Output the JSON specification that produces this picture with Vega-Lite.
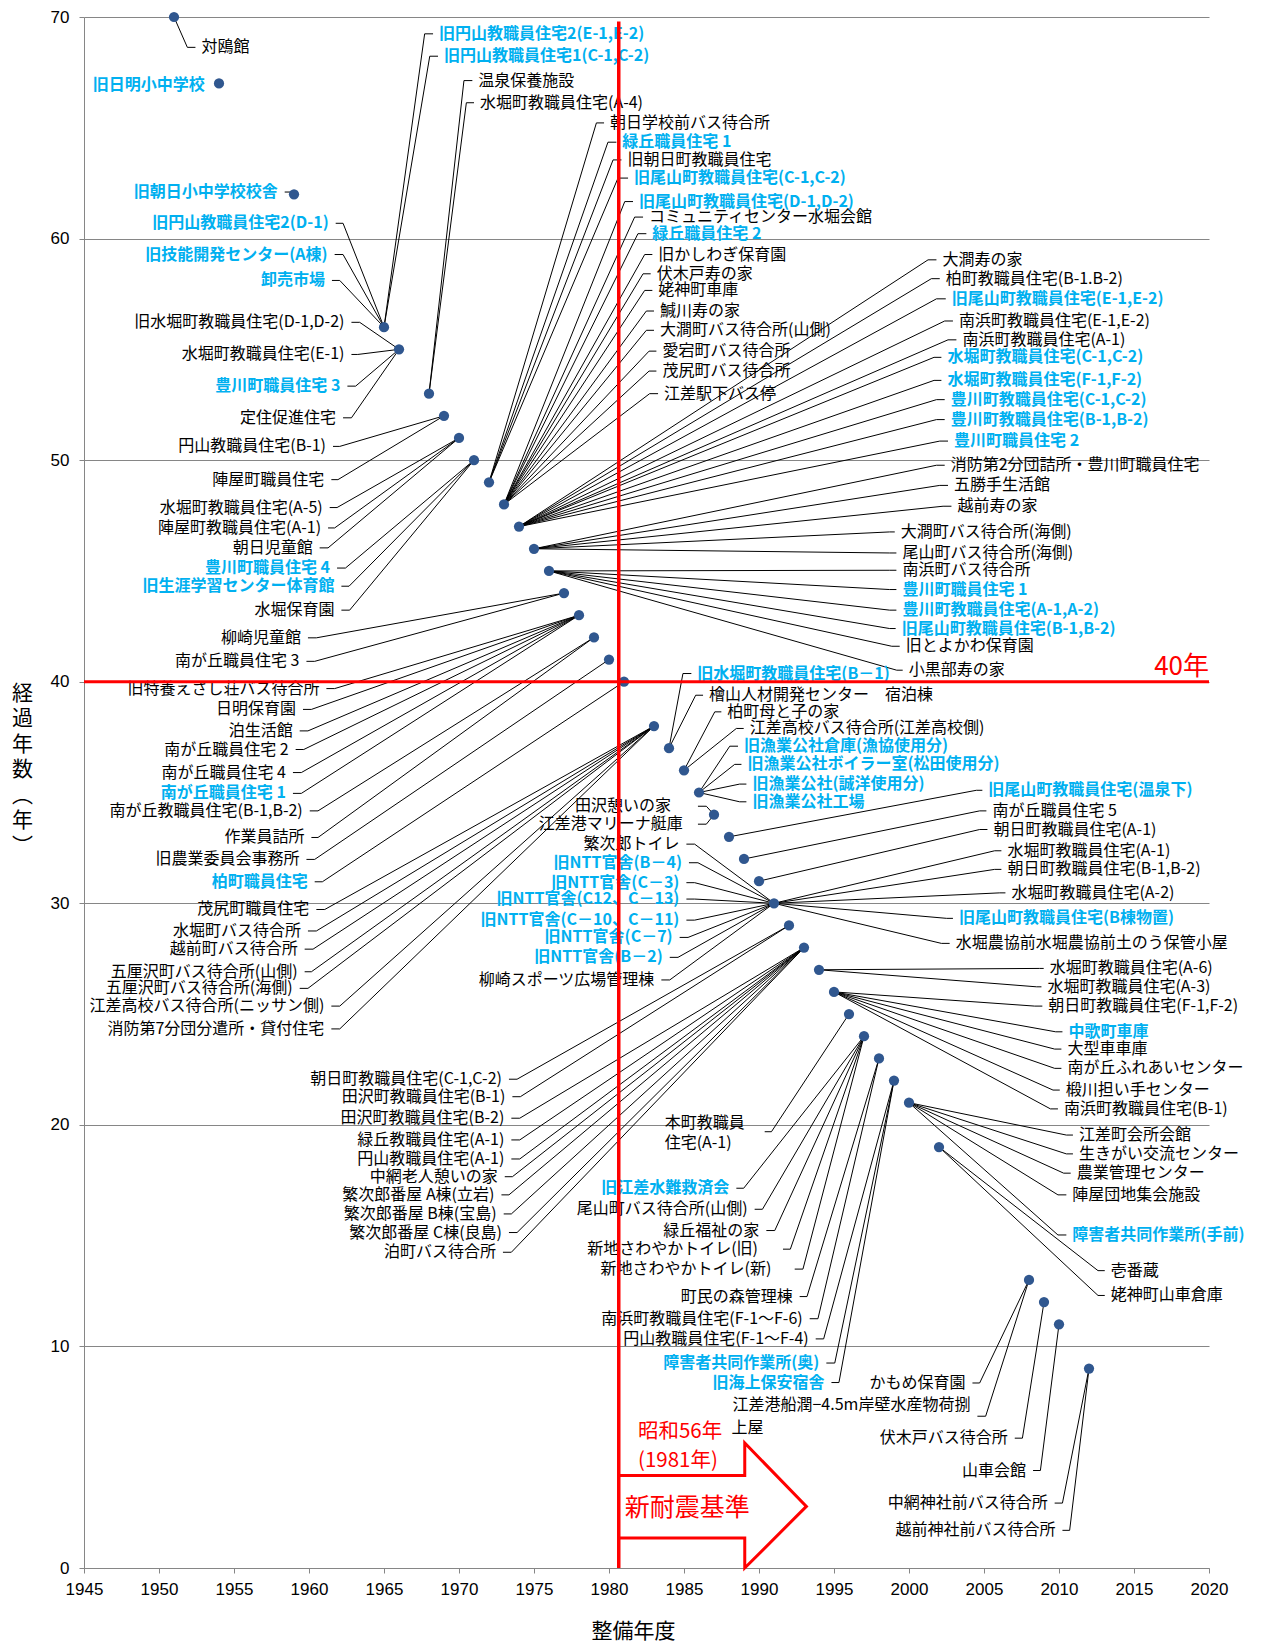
{
  "$schema": "https://vega.github.io/schema/vega-lite/v6.json",
  "width": 1125,
  "height": 1551,
  "autosize": {"type": "none"},
  "padding": {"left": 84, "top": 17, "right": 53, "bottom": 74},
  "config": {"view": {"stroke": null}, "font": "Noto Sans CJK JP"},
  "datasets": {
    "pts": [
      {"year": 1951, "age": 70}, {"year": 1954, "age": 67}, {"year": 1959, "age": 62}, {"year": 1965, "age": 56},
      {"year": 1966, "age": 55}, {"year": 1968, "age": 53}, {"year": 1969, "age": 52}, {"year": 1970, "age": 51},
      {"year": 1971, "age": 50}, {"year": 1972, "age": 49}, {"year": 1973, "age": 48}, {"year": 1974, "age": 47},
      {"year": 1975, "age": 46}, {"year": 1976, "age": 45}, {"year": 1977, "age": 44}, {"year": 1978, "age": 43},
      {"year": 1979, "age": 42}, {"year": 1980, "age": 41}, {"year": 1981, "age": 40}, {"year": 1983, "age": 38},
      {"year": 1984, "age": 37}, {"year": 1985, "age": 36}, {"year": 1986, "age": 35}, {"year": 1987, "age": 34},
      {"year": 1988, "age": 33}, {"year": 1989, "age": 32}, {"year": 1990, "age": 31}, {"year": 1991, "age": 30},
      {"year": 1992, "age": 29}, {"year": 1993, "age": 28}, {"year": 1994, "age": 27}, {"year": 1995, "age": 26},
      {"year": 1996, "age": 25}, {"year": 1997, "age": 24}, {"year": 1998, "age": 23}, {"year": 1999, "age": 22},
      {"year": 2000, "age": 21}, {"year": 2002, "age": 19}, {"year": 2008, "age": 13}, {"year": 2009, "age": 12},
      {"year": 2010, "age": 11}, {"year": 2012, "age": 9}
    ],
    "lab": [
      {"n": "対鴎館", "b": 0, "x": 1951, "y": 70, "ex": 1951.89, "lx": 1952.43, "ly": 68.63, "s": "R"},
      {"n": "旧日明小中学校", "b": 1, "lx": 1953.51, "ly": 66.95, "s": "L"},
      {"n": "旧朝日小中学校校舎", "b": 1, "x": 1959, "y": 62, "ex": 1958.85, "lx": 1958.38, "ly": 62.1, "s": "L"},
      {"n": "旧円山教職員住宅2(D-1)", "b": 1, "x": 1965, "y": 56, "ex": 1962.27, "lx": 1961.78, "ly": 60.69, "s": "L"},
      {"n": "旧技能開発センター(A棟)", "b": 1, "x": 1965, "y": 56, "ex": 1962.27, "lx": 1961.71, "ly": 59.28, "s": "L"},
      {"n": "卸売市場", "b": 1, "x": 1965, "y": 56, "ex": 1962.05, "lx": 1961.53, "ly": 58.11, "s": "L"},
      {"n": "旧水堀町教職員住宅(D-1,D-2)", "b": 0, "x": 1966, "y": 55, "ex": 1963.38, "lx": 1962.83, "ly": 56.22, "s": "L"},
      {"n": "水堀町教職員住宅(E-1)", "b": 0, "x": 1966, "y": 55, "ex": 1963.25, "lx": 1962.83, "ly": 54.77, "s": "L"},
      {"n": "豊川町職員住宅 3", "b": 1, "x": 1966, "y": 55, "ex": 1963.11, "lx": 1962.56, "ly": 53.34, "s": "L"},
      {"n": "定住促進住宅", "b": 0, "x": 1966, "y": 55, "ex": 1962.83, "lx": 1962.27, "ly": 51.91, "s": "L"},
      {"n": "旧円山教職員住宅2(E-1,E-2)", "b": 1, "x": 1965, "y": 56, "ex": 1967.71, "lx": 1968.27, "ly": 69.24, "s": "R"},
      {"n": "旧円山教職員住宅1(C-1,C-2)", "b": 1, "x": 1965, "y": 56, "ex": 1968.05, "lx": 1968.6, "ly": 68.23, "s": "R"},
      {"n": "温泉保養施設", "b": 0, "x": 1968, "y": 53, "ex": 1970.33, "lx": 1970.89, "ly": 67.13, "s": "R"},
      {"n": "水堀町教職員住宅(A-4)", "b": 0, "x": 1968, "y": 53, "ex": 1970.49, "lx": 1971.0, "ly": 66.13, "s": "R"},
      {"n": "円山教職員住宅(B-1)", "b": 0, "x": 1969, "y": 52, "ex": 1962.05, "lx": 1961.6, "ly": 50.62, "s": "L"},
      {"n": "陣屋町職員住宅", "b": 0, "x": 1969, "y": 52, "ex": 1961.93, "lx": 1961.49, "ly": 49.12, "s": "L"},
      {"n": "水堀町教職員住宅(A-5)", "b": 0, "x": 1970, "y": 51, "ex": 1961.87, "lx": 1961.38, "ly": 47.86, "s": "L"},
      {"n": "陣屋町教職員住宅(A-1)", "b": 0, "x": 1970, "y": 51, "ex": 1961.71, "lx": 1961.27, "ly": 46.94, "s": "L"},
      {"n": "朝日児童館", "b": 0, "x": 1970, "y": 51, "ex": 1961.27, "lx": 1960.71, "ly": 46.04, "s": "L"},
      {"n": "豊川町職員住宅 4", "b": 1, "x": 1971, "y": 50, "ex": 1962.43, "lx": 1961.87, "ly": 45.13, "s": "L"},
      {"n": "旧生涯学習センター体育館", "b": 1, "x": 1971, "y": 50, "ex": 1962.67, "lx": 1962.16, "ly": 44.31, "s": "L"},
      {"n": "水堀保育園", "b": 0, "x": 1971, "y": 50, "ex": 1962.71, "lx": 1962.16, "ly": 43.23, "s": "L"},
      {"n": "朝日学校前バス待合所", "b": 0, "x": 1972, "y": 49, "ex": 1979.16, "lx": 1979.67, "ly": 65.22, "s": "R"},
      {"n": "緑丘職員住宅 1", "b": 1, "x": 1972, "y": 49, "ex": 1979.93, "lx": 1980.49, "ly": 64.35, "s": "R"},
      {"n": "旧朝日町教職員住宅", "b": 0, "x": 1972, "y": 49, "ex": 1980.27, "lx": 1980.83, "ly": 63.55, "s": "R"},
      {"n": "旧尾山町教職員住宅(C-1,C-2)", "b": 1, "x": 1972, "y": 49, "ex": 1980.6, "lx": 1981.27, "ly": 62.73, "s": "R"},
      {"n": "旧尾山町教職員住宅(D-1,D-2)", "b": 1, "x": 1973, "y": 48, "ex": 1981.05, "lx": 1981.6, "ly": 61.67, "s": "R"},
      {"n": "コミュニティセンター水堀会館", "b": 0, "x": 1973, "y": 48, "ex": 1981.71, "lx": 1982.27, "ly": 60.97, "s": "R"},
      {"n": "緑丘職員住宅 2", "b": 1, "x": 1973, "y": 48, "ex": 1981.93, "lx": 1982.49, "ly": 60.22, "s": "R"},
      {"n": "旧かしわぎ保育園", "b": 0, "x": 1973, "y": 48, "ex": 1982.38, "lx": 1982.89, "ly": 59.28, "s": "R"},
      {"n": "伏木戸寿の家", "b": 0, "x": 1973, "y": 48, "ex": 1982.27, "lx": 1982.78, "ly": 58.41, "s": "R"},
      {"n": "姥神町車庫", "b": 0, "x": 1973, "y": 48, "ex": 1982.38, "lx": 1982.89, "ly": 57.66, "s": "R"},
      {"n": "鰔川寿の家", "b": 0, "x": 1973, "y": 48, "ex": 1982.49, "lx": 1983.0, "ly": 56.73, "s": "R"},
      {"n": "大澗町バス待合所(山側)", "b": 0, "x": 1973, "y": 48, "ex": 1982.49, "lx": 1983.0, "ly": 55.86, "s": "R"},
      {"n": "愛宕町バス待合所", "b": 0, "x": 1973, "y": 48, "ex": 1982.67, "lx": 1983.16, "ly": 54.92, "s": "R"},
      {"n": "茂尻町バス待合所", "b": 0, "x": 1973, "y": 48, "ex": 1982.67, "lx": 1983.16, "ly": 54.02, "s": "R"},
      {"n": "江差駅下バス停", "b": 0, "x": 1973, "y": 48, "ex": 1982.71, "lx": 1983.27, "ly": 53.0, "s": "R"},
      {"n": "大澗寿の家", "b": 0, "x": 1974, "y": 47, "ex": 2001.27, "lx": 2001.83, "ly": 59.04, "s": "R"},
      {"n": "柏町教職員住宅(B-1.B-2)", "b": 0, "x": 1974, "y": 47, "ex": 2001.49, "lx": 2002.05, "ly": 58.19, "s": "R"},
      {"n": "旧尾山町教職員住宅(E-1,E-2)", "b": 1, "x": 1974, "y": 47, "ex": 2001.83, "lx": 2002.45, "ly": 57.28, "s": "R"},
      {"n": "南浜町教職員住宅(E-1,E-2)", "b": 0, "x": 1974, "y": 47, "ex": 2002.38, "lx": 2002.93, "ly": 56.28, "s": "R"},
      {"n": "南浜町教職員住宅(A-1)", "b": 0, "x": 1974, "y": 47, "ex": 2002.6, "lx": 2003.16, "ly": 55.43, "s": "R"},
      {"n": "水堀町教職員住宅(C-1,C-2)", "b": 1, "x": 1974, "y": 47, "ex": 2001.67, "lx": 2002.16, "ly": 54.64, "s": "R"},
      {"n": "水堀町教職員住宅(F-1,F-2)", "b": 1, "x": 1974, "y": 47, "ex": 2001.67, "lx": 2002.16, "ly": 53.6, "s": "R"},
      {"n": "豊川町教職員住宅(C-1,C-2)", "b": 1, "x": 1974, "y": 47, "ex": 2001.83, "lx": 2002.38, "ly": 52.73, "s": "R"},
      {"n": "豊川町教職員住宅(B-1,B-2)", "b": 1, "x": 1974, "y": 47, "ex": 2001.83, "lx": 2002.38, "ly": 51.83, "s": "R"},
      {"n": "豊川町職員住宅 2", "b": 1, "x": 1974, "y": 47, "ex": 2002.05, "lx": 2002.6, "ly": 50.86, "s": "R"},
      {"n": "消防第2分団詰所・豊川町職員住宅", "b": 0, "x": 1975, "y": 46, "ex": 2001.83, "lx": 2002.38, "ly": 49.77, "s": "R"},
      {"n": "五勝手生活館", "b": 0, "x": 1975, "y": 46, "ex": 2002.05, "lx": 2002.6, "ly": 48.86, "s": "R"},
      {"n": "越前寿の家", "b": 0, "x": 1975, "y": 46, "ex": 2002.27, "lx": 2002.83, "ly": 47.92, "s": "R"},
      {"n": "大澗町バス待合所(海側)", "b": 0, "x": 1975, "y": 46, "ex": 1998.71, "lx": 1999.05, "ly": 46.76, "s": "R"},
      {"n": "尾山町バス待合所(海側)", "b": 0, "x": 1975, "y": 46, "ex": 1998.71, "lx": 1999.16, "ly": 45.81, "s": "R"},
      {"n": "南浜町バス待合所", "b": 0, "x": 1976, "y": 45, "ex": 1998.71, "lx": 1999.16, "ly": 45.03, "s": "R"},
      {"n": "豊川町職員住宅 1", "b": 1, "x": 1976, "y": 45, "ex": 1998.71, "lx": 1999.16, "ly": 44.16, "s": "R"},
      {"n": "豊川町教職員住宅(A-1,A-2)", "b": 1, "x": 1976, "y": 45, "ex": 1998.71, "lx": 1999.16, "ly": 43.23, "s": "R"},
      {"n": "旧尾山町教職員住宅(B-1,B-2)", "b": 1, "x": 1976, "y": 45, "ex": 1998.71, "lx": 1999.11, "ly": 42.4, "s": "R"},
      {"n": "旧とよかわ保育園", "b": 0, "x": 1976, "y": 45, "ex": 1998.85, "lx": 1999.38, "ly": 41.6, "s": "R"},
      {"n": "小黒部寿の家", "b": 0, "x": 1976, "y": 45, "ex": 1999.18, "lx": 1999.58, "ly": 40.52, "s": "R"},
      {"n": "柳崎児童館", "b": 0, "x": 1977, "y": 44, "ex": 1960.49, "lx": 1959.93, "ly": 41.98, "s": "L"},
      {"n": "南が丘職員住宅 3", "b": 0, "x": 1977, "y": 44, "ex": 1960.38, "lx": 1959.83, "ly": 40.92, "s": "L"},
      {"n": "旧特養えさし荘バス待合所", "b": 0, "x": 1978, "y": 43, "ex": 1961.71, "lx": 1961.16, "ly": 39.69, "s": "L"},
      {"n": "日明保育園", "b": 0, "x": 1978, "y": 43, "ex": 1960.16, "lx": 1959.6, "ly": 38.75, "s": "L"},
      {"n": "泊生活館", "b": 0, "x": 1978, "y": 43, "ex": 1959.93, "lx": 1959.38, "ly": 37.78, "s": "L"},
      {"n": "南が丘職員住宅 2", "b": 0, "x": 1978, "y": 43, "ex": 1959.65, "lx": 1959.11, "ly": 36.94, "s": "L"},
      {"n": "南が丘職員住宅 4", "b": 0, "x": 1978, "y": 43, "ex": 1959.49, "lx": 1958.93, "ly": 35.9, "s": "L"},
      {"n": "南が丘職員住宅 1", "b": 1, "x": 1978, "y": 43, "ex": 1959.49, "lx": 1958.93, "ly": 34.96, "s": "L"},
      {"n": "南が丘教職員住宅(B-1,B-2)", "b": 0, "x": 1979, "y": 42, "ex": 1960.6, "lx": 1960.05, "ly": 34.17, "s": "L"},
      {"n": "作業員詰所", "b": 0, "x": 1979, "y": 42, "ex": 1960.6, "lx": 1960.16, "ly": 32.97, "s": "L"},
      {"n": "旧農業委員会事務所", "b": 0, "x": 1980, "y": 41, "ex": 1960.38, "lx": 1959.83, "ly": 31.98, "s": "L"},
      {"n": "柏町職員住宅", "b": 1, "x": 1981, "y": 40, "ex": 1960.89, "lx": 1960.38, "ly": 30.97, "s": "L"},
      {"n": "茂尻町職員住宅", "b": 0, "x": 1983, "y": 38, "ex": 1961.05, "lx": 1960.49, "ly": 29.72, "s": "L"},
      {"n": "水堀町バス待合所", "b": 0, "x": 1983, "y": 38, "ex": 1960.49, "lx": 1959.93, "ly": 28.75, "s": "L"},
      {"n": "越前町バス待合所", "b": 0, "x": 1983, "y": 38, "ex": 1960.27, "lx": 1959.71, "ly": 27.93, "s": "L"},
      {"n": "五厘沢町バス待合所(山側)", "b": 0, "x": 1983, "y": 38, "ex": 1960.16, "lx": 1959.71, "ly": 26.91, "s": "L"},
      {"n": "五厘沢町バス待合所(海側)", "b": 0, "x": 1983, "y": 38, "ex": 1959.93, "lx": 1959.38, "ly": 26.16, "s": "L"},
      {"n": "江差高校バス待合所(ニッサン側)", "b": 0, "x": 1983, "y": 38, "ex": 1962.05, "lx": 1961.49, "ly": 25.36, "s": "L"},
      {"n": "消防第7分団分遣所・貸付住宅", "b": 0, "x": 1983, "y": 38, "ex": 1962.05, "lx": 1961.49, "ly": 24.33, "s": "L"},
      {"n": "旧水堀町教職員住宅(B－1)", "b": 1, "x": 1984, "y": 37, "ex": 1984.93, "lx": 1985.49, "ly": 40.37, "s": "R"},
      {"n": "檜山人材開発センター　宿泊棟", "b": 0, "x": 1984, "y": 37, "ex": 1985.78, "lx": 1986.27, "ly": 39.39, "s": "R"},
      {"n": "柏町母と子の家", "b": 0, "x": 1985, "y": 36, "ex": 1987.05, "lx": 1987.49, "ly": 38.64, "s": "R"},
      {"n": "江差高校バス待合所(江差高校側)", "b": 0, "x": 1985, "y": 36, "ex": 1988.49, "lx": 1988.98, "ly": 37.89, "s": "R"},
      {"n": "旧漁業公社倉庫(漁協使用分)", "b": 1, "x": 1986, "y": 35, "ex": 1988.05, "lx": 1988.6, "ly": 37.09, "s": "R"},
      {"n": "旧漁業公社ボイラー室(松田使用分)", "b": 1, "x": 1986, "y": 35, "ex": 1988.38, "lx": 1988.83, "ly": 36.27, "s": "R"},
      {"n": "旧漁業公社(誠洋使用分)", "b": 1, "x": 1986, "y": 35, "ex": 1988.71, "lx": 1989.16, "ly": 35.38, "s": "R"},
      {"n": "旧漁業公社工場", "b": 1, "x": 1986, "y": 35, "ex": 1988.71, "lx": 1989.16, "ly": 34.58, "s": "R"},
      {"n": "", "b": 0, "x": 1987, "y": 34, "ex": 1986.49, "lx": 1985.93, "ly": 34.38, "s": "L"},
      {"n": "田沢憩いの家", "b": 0, "lx": 1984.6, "ly": 34.38, "s": "L"},
      {"n": "", "b": 0, "x": 1987, "y": 34, "ex": 1986.49, "lx": 1985.93, "ly": 33.57, "s": "L"},
      {"n": "江差港マリーナ艇庫", "b": 0, "lx": 1985.38, "ly": 33.57, "s": "L"},
      {"n": "繁次郎トイレ", "b": 0, "x": 1991, "y": 30, "ex": 1985.71, "lx": 1985.16, "ly": 32.67, "s": "L"},
      {"n": "旧NTT官舎(B－4)", "b": 1, "x": 1991, "y": 30, "ex": 1985.93, "lx": 1985.33, "ly": 31.83, "s": "L"},
      {"n": "旧NTT官舎(C－3)", "b": 1, "x": 1991, "y": 30, "ex": 1985.71, "lx": 1985.16, "ly": 30.93, "s": "L"},
      {"n": "旧NTT官舎(C12、C－13)", "b": 1, "x": 1991, "y": 30, "ex": 1985.71, "lx": 1985.16, "ly": 30.19, "s": "L"},
      {"n": "旧NTT官舎(C－10、C－11)", "b": 1, "x": 1991, "y": 30, "ex": 1985.71, "lx": 1985.16, "ly": 29.24, "s": "L"},
      {"n": "旧NTT官舎(C－7)", "b": 1, "x": 1991, "y": 30, "ex": 1985.27, "lx": 1984.71, "ly": 28.46, "s": "L"},
      {"n": "旧NTT官舎(B－2)", "b": 1, "x": 1991, "y": 30, "ex": 1984.6, "lx": 1984.05, "ly": 27.56, "s": "L"},
      {"n": "柳崎スポーツ広場管理棟", "b": 0, "x": 1991, "y": 30, "ex": 1984.05, "lx": 1983.49, "ly": 26.54, "s": "L"},
      {"n": "旧尾山町教職員住宅(温泉下)", "b": 1, "x": 1988, "y": 33, "ex": 2004.49, "lx": 2004.89, "ly": 35.1, "s": "R"},
      {"n": "南が丘職員住宅 5", "b": 0, "x": 1989, "y": 32, "ex": 2004.71, "lx": 2005.16, "ly": 34.17, "s": "R"},
      {"n": "朝日町教職員住宅(A-1)", "b": 0, "x": 1990, "y": 31, "ex": 2004.71, "lx": 2005.23, "ly": 33.33, "s": "R"},
      {"n": "水堀町教職員住宅(A-1)", "b": 0, "x": 1991, "y": 30, "ex": 2005.71, "lx": 2006.16, "ly": 32.37, "s": "R"},
      {"n": "朝日町教職員住宅(B-1,B-2)", "b": 0, "x": 1991, "y": 30, "ex": 2005.71, "lx": 2006.16, "ly": 31.53, "s": "R"},
      {"n": "水堀町教職員住宅(A-2)", "b": 0, "x": 1991, "y": 30, "ex": 2006.05, "lx": 2006.43, "ly": 30.47, "s": "R"},
      {"n": "旧尾山町教職員住宅(B棟物置)", "b": 1, "x": 1991, "y": 30, "ex": 2002.51, "lx": 2002.93, "ly": 29.32, "s": "R"},
      {"n": "水堀農協前水堀農協前土のう保管小屋", "b": 0, "x": 1991, "y": 30, "ex": 2002.16, "lx": 2002.71, "ly": 28.19, "s": "R"},
      {"n": "水堀町教職員住宅(A-6)", "b": 0, "x": 1994, "y": 27, "ex": 2008.71, "lx": 2008.98, "ly": 27.06, "s": "R"},
      {"n": "水堀町教職員住宅(A-3)", "b": 0, "x": 1994, "y": 27, "ex": 2008.51, "lx": 2008.83, "ly": 26.23, "s": "R"},
      {"n": "朝日町教職員住宅(F-1,F-2)", "b": 0, "x": 1995, "y": 26, "ex": 2008.38, "lx": 2008.89, "ly": 25.36, "s": "R"},
      {"n": "中歌町車庫", "b": 1, "x": 1995, "y": 26, "ex": 2009.78, "lx": 2010.23, "ly": 24.2, "s": "R"},
      {"n": "大型車車庫", "b": 0, "x": 1995, "y": 26, "ex": 2009.71, "lx": 2010.16, "ly": 23.42, "s": "R"},
      {"n": "南が丘ふれあいセンター", "b": 0, "x": 1995, "y": 26, "ex": 2009.71, "lx": 2010.16, "ly": 22.55, "s": "R"},
      {"n": "椴川担い手センター", "b": 0, "x": 1995, "y": 26, "ex": 2009.6, "lx": 2010.05, "ly": 21.57, "s": "R"},
      {"n": "南浜町教職員住宅(B-1)", "b": 0, "x": 1995, "y": 26, "ex": 2009.43, "lx": 2009.93, "ly": 20.72, "s": "R"},
      {"n": "朝日町教職員住宅(C-1,C-2)", "b": 0, "x": 1992, "y": 29, "ex": 1973.87, "lx": 1973.33, "ly": 22.06, "s": "L"},
      {"n": "田沢町教職員住宅(B-1)", "b": 0, "x": 1992, "y": 29, "ex": 1974.09, "lx": 1973.56, "ly": 21.27, "s": "L"},
      {"n": "田沢町教職員住宅(B-2)", "b": 0, "x": 1993, "y": 28, "ex": 1974.05, "lx": 1973.49, "ly": 20.3, "s": "L"},
      {"n": "緑丘教職員住宅(A-1)", "b": 0, "x": 1993, "y": 28, "ex": 1974.05, "lx": 1973.49, "ly": 19.32, "s": "L"},
      {"n": "円山教職員住宅(A-1)", "b": 0, "x": 1993, "y": 28, "ex": 1974.05, "lx": 1973.49, "ly": 18.46, "s": "L"},
      {"n": "中網老人憩いの家", "b": 0, "x": 1993, "y": 28, "ex": 1973.56, "lx": 1973.05, "ly": 17.66, "s": "L"},
      {"n": "繁次郎番屋 A棟(立岩)", "b": 0, "x": 1993, "y": 28, "ex": 1973.33, "lx": 1972.83, "ly": 16.84, "s": "L"},
      {"n": "繁次郎番屋 B棟(宝島)", "b": 0, "x": 1993, "y": 28, "ex": 1973.49, "lx": 1972.98, "ly": 15.98, "s": "L"},
      {"n": "繁次郎番屋 C棟(良島)", "b": 0, "x": 1993, "y": 28, "ex": 1973.87, "lx": 1973.33, "ly": 15.14, "s": "L"},
      {"n": "泊町バス待合所", "b": 0, "x": 1993, "y": 28, "ex": 1973.49, "lx": 1972.93, "ly": 14.25, "s": "L"},
      {"n": "", "b": 0, "x": 1996, "y": 25, "ex": 1990.83, "lx": 1990.38, "ly": 19.69, "s": "L"},
      {"n": "本町教職員", "b": 0, "lx": 1983.31, "ly": 20.1, "s": "R"},
      {"n": "住宅(A-1)", "b": 0, "lx": 1983.31, "ly": 19.17, "s": "R"},
      {"n": "旧江差水難救済会", "b": 1, "x": 1997, "y": 24, "ex": 1988.98, "lx": 1988.49, "ly": 17.14, "s": "L"},
      {"n": "尾山町バス待合所(山側)", "b": 0, "x": 1997, "y": 24, "ex": 1990.23, "lx": 1989.71, "ly": 16.19, "s": "L"},
      {"n": "緑丘福祉の家", "b": 0, "x": 1997, "y": 24, "ex": 1991.05, "lx": 1990.49, "ly": 15.23, "s": "L"},
      {"n": "", "b": 0, "x": 1997, "y": 24, "ex": 1992.09, "lx": 1991.6, "ly": 14.39, "s": "L"},
      {"n": "新地さわやかトイレ(旧)", "b": 0, "lx": 1990.4, "ly": 14.39, "s": "L"},
      {"n": "", "b": 0, "x": 1997, "y": 24, "ex": 1992.93, "lx": 1992.38, "ly": 13.49, "s": "L"},
      {"n": "新地さわやかトイレ(新)", "b": 0, "lx": 1991.29, "ly": 13.49, "s": "L"},
      {"n": "町民の森管理棟", "b": 0, "x": 1998, "y": 23, "ex": 1993.2, "lx": 1992.71, "ly": 12.25, "s": "L"},
      {"n": "南浜町教職員住宅(F-1～F-6)", "b": 0, "x": 1998, "y": 23, "ex": 1993.93, "lx": 1993.38, "ly": 11.25, "s": "L"},
      {"n": "円山教職員住宅(F-1～F-4)", "b": 0, "x": 1999, "y": 22, "ex": 1994.31, "lx": 1993.78, "ly": 10.34, "s": "L"},
      {"n": "障害者共同作業所(奥)", "b": 1, "x": 1999, "y": 22, "ex": 1995.05, "lx": 1994.49, "ly": 9.25, "s": "L"},
      {"n": "旧海上保安宿舎", "b": 1, "x": 1999, "y": 22, "ex": 1995.33, "lx": 1994.83, "ly": 8.37, "s": "L"},
      {"n": "江差町会所会館", "b": 0, "x": 2000, "y": 21, "ex": 2010.49, "lx": 2010.93, "ly": 19.54, "s": "R"},
      {"n": "生きがい交流センター", "b": 0, "x": 2000, "y": 21, "ex": 2010.49, "lx": 2010.93, "ly": 18.69, "s": "R"},
      {"n": "農業管理センター", "b": 0, "x": 2000, "y": 21, "ex": 2010.31, "lx": 2010.78, "ly": 17.82, "s": "R"},
      {"n": "陣屋団地集会施設", "b": 0, "x": 2000, "y": 21, "ex": 2009.93, "lx": 2010.49, "ly": 16.84, "s": "R"},
      {"n": "障害者共同作業所(手前)", "b": 1, "x": 2000, "y": 21, "ex": 2009.93, "lx": 2010.49, "ly": 15.03, "s": "R"},
      {"n": "壱番蔵", "b": 0, "x": 2002, "y": 19, "ex": 2012.6, "lx": 2013.05, "ly": 13.42, "s": "R"},
      {"n": "姥神町山車倉庫", "b": 0, "x": 2002, "y": 19, "ex": 2012.6, "lx": 2013.05, "ly": 12.3, "s": "R"},
      {"n": "かもめ保育園", "b": 0, "x": 2008, "y": 13, "ex": 2004.71, "lx": 2004.23, "ly": 8.35, "s": "L"},
      {"n": "", "b": 0, "x": 2008, "y": 13, "ex": 2005.11, "lx": 2004.56, "ly": 6.85, "s": "L"},
      {"n": "江差港船潤−4.5m岸壁水産物荷捌", "b": 0, "lx": 2004.56, "ly": 7.37, "s": "L"},
      {"n": "上屋", "b": 0, "lx": 1987.76, "ly": 6.34, "s": "R"},
      {"n": "伏木戸バス待合所", "b": 0, "x": 2009, "y": 12, "ex": 2007.56, "lx": 2007.05, "ly": 5.86, "s": "L"},
      {"n": "山車会館", "b": 0, "x": 2010, "y": 11, "ex": 2008.76, "lx": 2008.27, "ly": 4.4, "s": "L"},
      {"n": "中網神社前バス待合所", "b": 0, "x": 2012, "y": 9, "ex": 2010.23, "lx": 2009.71, "ly": 2.93, "s": "L"},
      {"n": "越前神社前バス待合所", "b": 0, "x": 2012, "y": 9, "ex": 2010.71, "lx": 2010.23, "ly": 1.7, "s": "L"}
    ]
  },
  "layer": [
    {
      "data": {"name": "lab"},
      "transform": [{"filter": "isValid(datum.ex)"}],
      "mark": {"type": "rule", "color": "#000000", "strokeWidth": 1},
      "encoding": {
        "x": {"field": "x", "type": "quantitative", "scale": {"domain": [1945, 2020], "nice": false, "zero": false},
          "axis": {"title": "整備年度", "values": [1945, 1950, 1955, 1960, 1965, 1970, 1975, 1980, 1985, 1990, 1995, 2000, 2005, 2010, 2015, 2020],
            "format": "d", "grid": false, "tickSize": 5, "labelPadding": 8, "labelFontSize": 17, "labelFont": "Liberation Sans",
            "labelColor": "#000000", "domainColor": "#868686", "tickColor": "#868686", "labelFlush": false, "labelOverlap": false,
            "titleFontSize": 21, "titleFontWeight": "normal", "titleColor": "#000000", "titleX": 549, "titleY": 63, "titleBaseline": "middle", "titleAlign": "center"}},
        "y": {"field": "y", "type": "quantitative", "scale": {"domain": [0, 70], "nice": false, "zero": true},
          "axis": {"title": ["経", "過", "年", "数", "︵", "年", "︶"], "values": [0, 10, 20, 30, 40, 50, 60, 70],
            "grid": true, "gridColor": "#868686", "gridWidth": 1, "tickSize": 5, "labelPadding": 10, "labelFontSize": 17, "labelFont": "Liberation Sans",
            "labelColor": "#000000", "domainColor": "#868686", "tickColor": "#868686", "labelFlush": false, "labelOverlap": false,
            "titleAngle": 0, "titleX": -62, "titleY": 676, "titleAlign": "center", "titleBaseline": "middle", "titleFontSize": 21,
            "titleLineHeight": 25.5, "titleFontWeight": "normal", "titleColor": "#000000"}},
        "x2": {"field": "ex"},
        "y2": {"field": "ly"}
      }
    },
    {
      "data": {"name": "lab"},
      "transform": [{"filter": "isValid(datum.ex)"}],
      "mark": {"type": "rule", "color": "#000000", "strokeWidth": 1},
      "encoding": {
        "x": {"field": "ex", "type": "quantitative"},
        "y": {"field": "ly", "type": "quantitative"},
        "x2": {"field": "lx"}
      }
    },
    {
      "data": {"name": "pts"},
      "mark": {"type": "circle", "size": 105, "color": "#30578F", "opacity": 1},
      "encoding": {
        "x": {"field": "year", "type": "quantitative"},
        "y": {"field": "age", "type": "quantitative"}
      }
    },
    {
      "data": {"name": "lab"},
      "transform": [{"filter": "datum.s == 'L' && datum.b == 0"}],
      "mark": {"type": "text", "align": "right", "baseline": "middle", "dx": -7, "fontSize": 16, "color": "#000000"},
      "encoding": {"x": {"field": "lx", "type": "quantitative"}, "y": {"field": "ly", "type": "quantitative"}, "text": {"field": "n"}}
    },
    {
      "data": {"name": "lab"},
      "transform": [{"filter": "datum.s == 'L' && datum.b == 1"}],
      "mark": {"type": "text", "align": "right", "baseline": "middle", "dx": -7, "fontSize": 16, "fontWeight": "bold", "color": "#00B0F0"},
      "encoding": {"x": {"field": "lx", "type": "quantitative"}, "y": {"field": "ly", "type": "quantitative"}, "text": {"field": "n"}}
    },
    {
      "data": {"name": "lab"},
      "transform": [{"filter": "datum.s == 'R' && datum.b == 0"}],
      "mark": {"type": "text", "align": "left", "baseline": "middle", "dx": 6, "fontSize": 16, "color": "#000000"},
      "encoding": {"x": {"field": "lx", "type": "quantitative"}, "y": {"field": "ly", "type": "quantitative"}, "text": {"field": "n"}}
    },
    {
      "data": {"name": "lab"},
      "transform": [{"filter": "datum.s == 'R' && datum.b == 1"}],
      "mark": {"type": "text", "align": "left", "baseline": "middle", "dx": 6, "fontSize": 16, "fontWeight": "bold", "color": "#00B0F0"},
      "encoding": {"x": {"field": "lx", "type": "quantitative"}, "y": {"field": "ly", "type": "quantitative"}, "text": {"field": "n"}}
    },
    {
      "data": {"values": [{"x": 1980.65, "y": 0, "y2": 69.8}]},
      "mark": {"type": "rule", "color": "#FF0000", "strokeWidth": 3.5},
      "encoding": {"x": {"field": "x", "type": "quantitative"}, "y": {"field": "y", "type": "quantitative"}, "y2": {"field": "y2"}}
    },
    {
      "data": {"values": [{"x": 1945, "x2": 2020, "y": 40}]},
      "mark": {"type": "rule", "color": "#FF0000", "strokeWidth": 3},
      "encoding": {"x": {"field": "x", "type": "quantitative"}, "x2": {"field": "x2"}, "y": {"field": "y", "type": "quantitative"}}
    },
    {
      "data": {"values": [
        {"o": 1, "x": 1980.65, "y": 4.18}, {"o": 2, "x": 1989.05, "y": 4.18}, {"o": 3, "x": 1989.05, "y": 5.64},
        {"o": 4, "x": 1993.16, "y": 2.78}, {"o": 5, "x": 1989.05, "y": 0.0}, {"o": 6, "x": 1989.05, "y": 1.35},
        {"o": 7, "x": 1980.65, "y": 1.35}
      ]},
      "mark": {"type": "line", "color": "#FF0000", "strokeWidth": 3, "strokeJoin": "miter"},
      "encoding": {"x": {"field": "x", "type": "quantitative"}, "y": {"field": "y", "type": "quantitative"}, "order": {"field": "o", "type": "quantitative"}}
    },
    {
      "data": {"values": [{"t": "40年", "x": 2020, "y": 40.67}]},
      "mark": {"type": "text", "align": "right", "baseline": "middle", "fontSize": 26, "color": "#FF0000"},
      "encoding": {"x": {"field": "x", "type": "quantitative"}, "y": {"field": "y", "type": "quantitative"}, "text": {"field": "t"}}
    },
    {
      "data": {"values": [{"t": "昭和56年", "x": 1981.93, "y": 6.16}, {"t": "(1981年)", "x": 1981.93, "y": 4.81}]},
      "mark": {"type": "text", "align": "left", "baseline": "middle", "fontSize": 20.5, "color": "#FF0000"},
      "encoding": {"x": {"field": "x", "type": "quantitative"}, "y": {"field": "y", "type": "quantitative"}, "text": {"field": "t"}}
    },
    {
      "data": {"values": [{"t": "新耐震基準", "x": 1981.05, "y": 2.71}]},
      "mark": {"type": "text", "align": "left", "baseline": "middle", "fontSize": 25, "color": "#FF0000"},
      "encoding": {"x": {"field": "x", "type": "quantitative"}, "y": {"field": "y", "type": "quantitative"}, "text": {"field": "t"}}
    }
  ]
}
